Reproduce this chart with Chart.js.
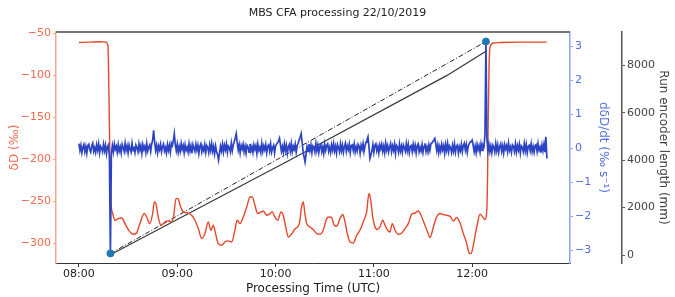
<!DOCTYPE html>
<html><head><meta charset="utf-8">
<script src="https://cdn.jsdelivr.net/npm/chart.js@4"></script>
<style>html,body{margin:0;padding:0;background:#fff}</style>
</head><body>
<canvas id="c" width="675" height="297"></canvas>
<script>
const chartTitle = 'MBS CFA processing 22/10/2019';
const xTitle = 'Processing Time (UTC)';
const dDTitle = 'δD (‰)';
const rateTitle = 'dδD/dt (‰ s⁻¹)';
const encTitle = 'Run encoder length (mm)';
const xTickLabels = ['08:00','09:00','10:00','11:00','12:00'];
const dDTicks = [-300,-250,-200,-150,-100,-50];
const rateTicks = [-3,-2,-1,0,1,2,3];
const encTicks = [0,2000,4000,6000,8000];

// δD series: time in minutes since midnight, value in permil
const dDTimes = [480.0,486.7,492.8,496.5,497.7,498.3,498.9,499.5,500.6,502.0,504.0,506.1,508.1,511.1,513.1,515.2,517.2,519.9,521.3,523.3,525.0,526.0,527.0,528.4,530.1,531.5,533.5,536.6,538.0,539.2,540.6,541.7,543.7,546.1,548.8,550.8,552.8,554.9,556.9,558.9,560.6,562.0,563.4,565.0,567.1,569.1,571.1,573.2,575.2,576.6,578.3,580.3,582.4,584.4,585.8,587.4,589.1,591.1,592.5,594.6,596.6,598.0,599.6,601.3,603.3,604.7,606.2,607.8,609.8,611.8,614.5,615.9,616.9,617.9,619.0,621.0,623.0,625.1,627.1,629.1,631.2,632.8,634.2,635.8,637.3,639.3,641.0,642.4,643.8,645.4,647.4,649.5,651.5,653.5,655.6,657.0,658.1,659.3,660.7,662.1,663.7,665.4,666.8,668.4,669.8,671.2,672.9,674.9,677.0,679.0,681.0,683.1,685.1,687.1,688.8,690.8,692.8,694.3,696.3,698.3,700.4,702.4,704.4,706.5,708.5,710.5,712.6,714.6,716.7,718.1,719.3,720.7,722.8,724.8,726.2,727.8,728.9,729.4,729.8,730.3,730.9,732.9,737.0,749.2,765.5];
const dDValues = [-61,-60.5,-60,-60.5,-65,-120,-200,-250,-264.6,-272.6,-270.6,-270,-276.6,-286.5,-289.3,-287.7,-276.6,-264.6,-268.7,-276.6,-264.6,-250.8,-252.8,-268.7,-278.6,-276.6,-273.4,-274.6,-264.6,-246.8,-246.8,-254.8,-262.7,-263.9,-266.7,-272.6,-282,-294.4,-288.5,-274.6,-284.5,-278.6,-288.5,-300.4,-302.4,-298.5,-297.2,-298.5,-284.5,-272.6,-276.6,-268.7,-256.8,-244.9,-244.9,-254.8,-264.6,-262.7,-261.5,-266.7,-264.6,-262.7,-268.7,-272.6,-262.7,-266.7,-280.6,-292.5,-289,-283,-276.6,-256.8,-250.8,-264.6,-276.6,-280.6,-283.7,-288.5,-289.3,-284.5,-270.6,-268.7,-269.4,-278.6,-279.8,-270.6,-265.8,-274.6,-288.5,-298.5,-299.6,-290.5,-284.5,-274.6,-262.7,-240.8,-248.8,-268.7,-280.6,-283.7,-280.6,-272.6,-278.6,-284.5,-286.5,-276.6,-284.5,-289.3,-287.7,-282.5,-276.6,-265.5,-264,-261.5,-266.7,-276.6,-286.5,-293.2,-280.6,-268.7,-264.6,-265.8,-266.7,-268,-273.4,-269.4,-275.8,-288.5,-300.4,-311.5,-312.3,-302.4,-280.6,-265.5,-268,-271.8,-260.7,-220,-150,-90,-66,-61.5,-61,-60.5,-60.5];

// dδD/dt series (permil per second): sampled every 0.6 min from 08:00
const rateStart = 480;
const rateStep = 0.6;
const rateValues = [
.14,-.06,.09,-.13,.03,.11,-.10,.05,-.15,.08,.12,-.04,-.11,.07,.15,-.09,.02,-.12,.10,-.05,
.13,-.14,.06,.01,-.10,.12,-.07,.09,-.16,.04,.10,-.25,-3.10,-.15,.08,-.11,.13,-.03,.06,-.12,
.11,-.08,.04,-.14,.12,.02,-.09,.15,-.06,.07,-.13,.10,-.02,-.11,.14,-.07,.05,-.12,.09,.01,
-.10,.13,-.05,.08,-.15,.11,-.03,.06,-.12,.14,-.08,.03,.10,-.09,.12,.25,.53,.18,-.06,.09,
-.13,.07,-.04,.12,-.10,.05,.13,-.08,.02,-.14,.11,-.06,.09,-.11,.15,.08,.22,.43,.10,-.07,
.12,-.12,.05,-.09,.14,-.03,.08,-.13,.10,-.06,.03,-.11,.13,-.08,.07,-.14,.11,.01,-.09,.12,
-.05,.09,-.15,.06,.13,-.10,.04,-.07,.11,-.12,.08,.02,-.13,.10,-.06,.14,-.09,.05,-.16,.07,
-.10,-.18,-.35,-.14,.06,-.08,.12,-.11,.09,-.04,.13,-.12,.07,.03,-.10,.15,-.07,.10,.20,.30,
.43,.16,-.05,.11,-.13,.08,-.02,.12,-.10,.06,-.14,.09,.04,-.11,.13,-.07,.05,-.12,.10,-.03,
.08,-.15,.12,-.06,.03,-.12,.14,-.09,.07,-.04,.11,-.13,.06,.10,-.08,.13,-.11,.02,.09,-.14,
.07,.12,.16,.22,.30,.10,-.09,.05,-.12,.13,-.06,.09,-.15,.04,.11,-.08,.14,-.10,.06,-.03,
.12,-.11,.08,.15,.25,.32,.43,.20,-.10,-.25,-.40,-.18,.05,-.09,.12,-.06,.10,-.13,.07,.02,
-.11,.14,-.07,.09,-.13,.05,.11,-.10,.04,-.15,.12,-.06,.08,.13,-.09,.03,-.12,.10,-.05,.14,
-.08,.06,-.14,.11,.02,-.10,.13,-.07,.09,-.12,.05,.15,-.09,.07,-.04,.12,-.13,.08,.10,-.06,
.13,-.11,.04,-.08,.12,.06,-.15,.09,-.03,.14,-.10,.07,.18,.25,.34,.05,-.30,-.20,-.08,.11,
-.12,.08,.13,-.07,.05,-.14,.10,-.02,.12,-.09,.06,-.13,.15,-.05,.08,-.11,.03,.14,-.10,.07,
-.06,.12,-.15,.09,.04,-.11,.13,-.08,.06,-.12,.10,.02,-.09,.14,-.07,.11,-.13,.05,.08,-.10,
.12,-.05,.09,-.14,.07,.13,-.10,.03,-.08,.11,-.12,.06,.15,-.09,.04,-.11,.10,-.06,.13,.16,
.20,.24,.29,.12,-.07,.10,-.13,.05,-.09,.12,-.04,.08,-.15,.11,-.06,.14,-.10,.07,.02,-.12,
.09,-.08,.13,-.11,.06,.10,-.14,.04,-.07,.12,-.10,.08,.15,-.05,.11,-.12,.07,.14,.18,.20,
.24,.09,-.10,.06,-.13,.11,-.04,.08,-.11,.13,-.06,.10,.05,.40,3.15,.30,-.08,.12,-.10,.06,
-.13,.09,.03,-.11,.14,-.07,.10,-.12,.05,.13,-.09,.07,-.14,.11,-.02,.08,-.10,.15,-.06,.04,
-.12,.10,.06,-.09,.13,-.11,.08,-.05,.12,-.14,.07,.02,-.10,.14,-.08,.11,-.13,.06,.09,-.07,
.13,-.10,.05,-.12,.08,.11,-.09,.14,-.06,.03,-.13,.10,-.07,.12,-.11,.34,-.30];

// run encoder (mm)
const encTimes = [498.9, 608.8, 704.4, 728.9];
const encValues = [0, 4006, 7562, 8616];
const encFitTimes = [499.2, 728.4];
const encFitValues = [60, 9000];
// derivative extremes
const peakTimes = [499.2, 728.4];
const peakValues = [-3.10, 3.15];

const toMin = s => { const [h,m] = s.split(':').map(Number); return h*60+m; };
const fmt = v => { const h = Math.floor(v/60), m = Math.round(v-h*60); return String(h).padStart(2,'0')+':'+String(m).padStart(2,'0'); };
const pts = (xs, ys) => xs.map((x,i) => ({x, y: ys[i]}));
const ratePts = rateValues.map((v,i) => ({x: rateStart + i*rateStep, y: v}));
const minus = v => String(v).replace('-', '−');

const FONT = 'DejaVu Sans';
const RED = '#e5472b', RED_T = '#ef6a4f', RED_S = '#f3a596';
const BLUE = '#2b43c4', BLUE_T = '#4f6fe2', BLUE_S = '#8fa3ef';
const GREY = '#555555', GREY_T = '#444444';

const frameTop = {
  id: 'frameTop',
  afterDatasetsDraw(chart) {
    const {ctx, chartArea: a} = chart;
    ctx.save();
    ctx.strokeStyle = '#777';
    ctx.lineWidth = 2;
    ctx.beginPath(); ctx.moveTo(a.left, a.top); ctx.lineTo(a.right, a.top); ctx.stroke();
    ctx.restore();
  }
};

new Chart(document.getElementById('c'), {
  type: 'line',
  data: {
    datasets: [
      {data: pts(peakTimes, peakValues), yAxisID: 'y2', type: 'scatter', showLine: false,
       pointRadius: 3.5, pointBackgroundColor: '#1f77b4', pointBorderColor: '#1f77b4', order: 0},
      {data: ratePts, yAxisID: 'y2', borderColor: BLUE, borderWidth: 1.7, pointRadius: 0, order: 1},
      {data: pts(dDTimes, dDValues), yAxisID: 'y', borderColor: RED, borderWidth: 1.4, pointRadius: 0,
       cubicInterpolationMode: 'monotone', order: 2},
      {data: pts(encTimes, encValues), yAxisID: 'y3', borderColor: '#3a3a3a', borderWidth: 1.3, pointRadius: 0, order: 3},
      {data: pts(encFitTimes, encFitValues), yAxisID: 'y3', borderColor: '#222', borderWidth: 1,
       borderDash: [5,2,1,2], pointRadius: 0, order: 4}
    ]
  },
  options: {
    responsive: false,
    animation: false,
    events: [],
    layout: {padding: 0},
    plugins: {
      legend: {display: false},
      tooltip: {enabled: false},
      title: {display: true, text: chartTitle, color: '#222', font: {family: FONT, size: 11, weight: 'normal'},
              padding: {top: 7, bottom: 11.8}}
    },
    scales: {
      x: {
        type: 'linear', min: 466, max: 779.7,
        afterBuildTicks: s => { s.ticks = xTickLabels.map(l => ({value: toMin(l)})); },
        afterFit: s => { s.height = 34; },
        ticks: {callback: v => fmt(v), color: '#222', font: {family: FONT, size: 11}, padding: 1, maxRotation: 0},
        grid: {display: true, drawOnChartArea: false, tickLength: 4, color: '#333'},
        border: {color: '#333', width: 1},
        title: {display: true, text: xTitle, color: '#222', font: {family: FONT, size: 12}, padding: {top: 1, bottom: 1}}
      },
      y: {
        position: 'left', min: -323.5, max: -48.45,
        afterBuildTicks: s => { s.ticks = dDTicks.map(v => ({value: v})); },
        afterFit: s => { s.width = 56; },
        ticks: {color: RED_T, font: {family: FONT, size: 11}, padding: 2, callback: v => minus(v)},
        grid: {display: true, drawOnChartArea: false, tickLength: 3, color: RED_S},
        border: {color: RED_S, width: 1.5},
        title: {display: true, text: dDTitle, color: RED_T, font: {family: FONT, size: 12}, padding: {top: 8, bottom: 0}}
      },
      y2: {
        position: 'right', weight: 0, min: -3.383, max: 3.431,
        afterBuildTicks: s => { s.ticks = rateTicks.map(v => ({value: v})); },
        afterFit: s => { s.width = 52; },
        ticks: {color: BLUE_T, font: {family: FONT, size: 11}, padding: 2, callback: v => minus(v)},
        grid: {display: true, drawOnChartArea: false, tickLength: 3, color: BLUE_S},
        border: {color: BLUE_S, width: 1.5},
        title: {display: true, text: rateTitle, color: BLUE_T, font: {family: FONT, size: 12}, padding: {top: 12, bottom: 0}}
      },
      y3: {
        position: 'right', weight: 1, min: -337, max: 9404,
        afterBuildTicks: s => { s.ticks = encTicks.map(v => ({value: v})); },
        afterFit: s => { s.width = 53; },
        ticks: {color: GREY_T, font: {family: FONT, size: 11}, padding: 2, callback: v => String(v)},
        grid: {display: true, drawOnChartArea: false, tickLength: 3, color: GREY},
        border: {color: GREY, width: 1.5},
        title: {display: true, text: encTitle, color: GREY_T, font: {family: FONT, size: 12}, padding: {top: 5, bottom: 0}}
      }
    }
  },
  plugins: [frameTop]
});
</script>
</body></html>
